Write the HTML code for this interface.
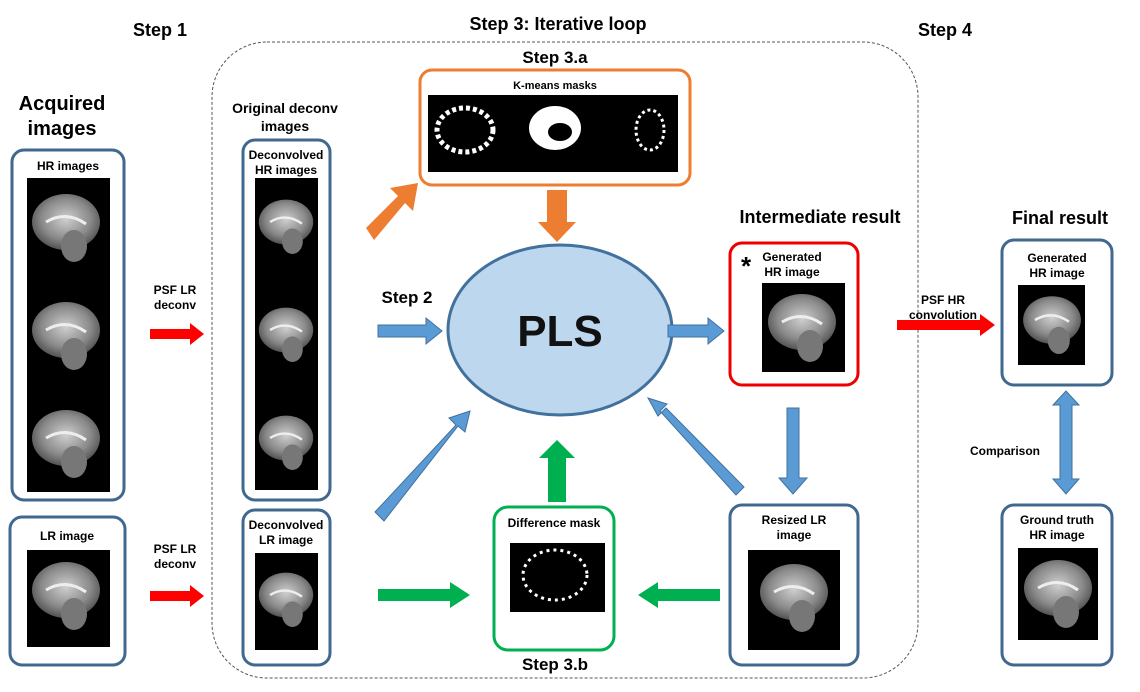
<!DOCTYPE html>
<html><head><meta charset="utf-8"><style>
body{margin:0;background:#fff;}
svg{display:block;font-family:"Liberation Sans",Arial,sans-serif;}
</style></head><body>
<svg width="1140" height="692" viewBox="0 0 1140 692" xmlns="http://www.w3.org/2000/svg">
<defs>
<radialGradient id="br" cx="0.5" cy="0.45" r="0.6"><stop offset="0" stop-color="#cfcfcf"/><stop offset="0.6" stop-color="#8a8a8a"/><stop offset="1" stop-color="#444"/></radialGradient>
<g id="brain"><ellipse cx="0" cy="0" rx="34" ry="28" fill="url(#br)"/><ellipse cx="8" cy="24" rx="13" ry="16" fill="#777"/><path d="M-20 0 Q0 -12 20 2" stroke="#eee" stroke-width="3" fill="none"/></g>
</defs>
<g font-weight="bold" fill="#000" text-anchor="middle">
<text x="160" y="36" font-size="18">Step 1</text>
<text x="558" y="30" font-size="18">Step 3: Iterative loop</text>
<text x="945" y="36" font-size="18">Step 4</text>
<text x="62" y="110" font-size="20">Acquired</text>
<text x="62" y="135" font-size="20">images</text>
<text x="285" y="113" font-size="14">Original deconv</text>
<text x="285" y="131" font-size="14">images</text>
<text x="555" y="63" font-size="17">Step 3.a</text>
<text x="820" y="223" font-size="18">Intermediate result</text>
<text x="1060" y="224" font-size="18">Final result</text>
<text x="407" y="303" font-size="17">Step 2</text>
<text x="555" y="670" font-size="17">Step 3.b</text>
</g>
<rect x="212" y="42" width="706" height="636" rx="55" fill="none" stroke="#555" stroke-width="1" stroke-dasharray="3,2"/>
<rect x="12" y="150" width="112" height="350" rx="12" fill="#fff" stroke="#41688f" stroke-width="3"/>
<text x="68" y="170" font-size="12" font-weight="bold" text-anchor="middle">HR images</text>
<rect x="27" y="178" width="83" height="314" fill="#000"/>
<use href="#brain" x="66" y="222"/><use href="#brain" x="66" y="330"/><use href="#brain" x="66" y="438"/>
<rect x="10" y="517" width="115" height="148" rx="12" fill="#fff" stroke="#41688f" stroke-width="3"/>
<text x="67" y="540" font-size="12" font-weight="bold" text-anchor="middle">LR image</text>
<rect x="27" y="550" width="83" height="97" fill="#000"/>
<use href="#brain" x="66" y="590"/>
<g font-size="12" font-weight="bold" text-anchor="middle">
<text x="175" y="294">PSF LR</text><text x="175" y="309">deconv</text>
<text x="175" y="553">PSF LR</text><text x="175" y="568">deconv</text>
<text x="943" y="304">PSF HR</text><text x="943" y="319">convolution</text>
<text x="1005" y="455">Comparison</text>
</g>
<g fill="#f00">
<polygon points="150,329 190,329 190,323 204,334 190,345 190,339 150,339"/>
<polygon points="150,591 190,591 190,585 204,596 190,607 190,601 150,601"/>
<polygon points="897,320 980,320 980,314 995,325 980,336 980,330 897,330"/>
</g>
<rect x="243" y="140" width="87" height="360" rx="12" fill="#fff" stroke="#41688f" stroke-width="3"/>
<text x="286" y="159" font-size="12" font-weight="bold" text-anchor="middle">Deconvolved</text>
<text x="286" y="174" font-size="12" font-weight="bold" text-anchor="middle">HR images</text>
<rect x="255" y="178" width="63" height="312" fill="#000"/>
<use href="#brain" x="286" y="222" transform="translate(286 222) scale(0.8) translate(-286 -222)"/>
<use href="#brain" x="286" y="330" transform="translate(286 330) scale(0.8) translate(-286 -330)"/>
<use href="#brain" x="286" y="438" transform="translate(286 438) scale(0.8) translate(-286 -438)"/>
<rect x="243" y="510" width="87" height="155" rx="12" fill="#fff" stroke="#41688f" stroke-width="3"/>
<text x="286" y="529" font-size="12" font-weight="bold" text-anchor="middle">Deconvolved</text>
<text x="286" y="544" font-size="12" font-weight="bold" text-anchor="middle">LR image</text>
<rect x="255" y="553" width="63" height="97" fill="#000"/>
<use href="#brain" x="286" y="595" transform="translate(286 595) scale(0.8) translate(-286 -595)"/>
<rect x="420" y="70" width="270" height="115" rx="12" fill="#fff" stroke="#ed7d31" stroke-width="3"/>
<text x="555" y="89" font-size="11" font-weight="bold" text-anchor="middle">K-means masks</text>
<rect x="428" y="95" width="250" height="77" fill="#000"/>
<ellipse cx="465" cy="130" rx="28" ry="22" fill="none" stroke="#fff" stroke-width="5" stroke-dasharray="4,3"/>
<ellipse cx="555" cy="128" rx="26" ry="22" fill="#fff"/><ellipse cx="560" cy="132" rx="12" ry="9" fill="#000"/>
<ellipse cx="650" cy="130" rx="14" ry="20" fill="none" stroke="#fff" stroke-width="3" stroke-dasharray="3,3"/>
<g fill="#ed7d31">
<polygon points="366,228 398,196 390,188 418,183 413,211 405,203 374,240"/>
<polygon points="547,190 567,190 567,222 576,222 557,242 538,222 547,222"/>
</g>
<ellipse cx="560" cy="330" rx="112" ry="85" fill="#bdd7ee" stroke="#41719c" stroke-width="3"/>
<text x="560" y="346" font-size="44" font-weight="bold" text-anchor="middle" fill="#111">PLS</text>
<g fill="#5b9bd5" stroke="#41719c" stroke-width="1">
<polygon points="378,325 426,325 426,318 442,331 426,344 426,337 378,337"/>
<polygon points="668,325 708,325 708,318 724,331 708,344 708,337 668,337"/>
<polygon points="787,408 799,408 799,478 807,478 793,494 779,478 787,478"/>
<polygon points="744,487 666,408 658,416 648,398 667,404 660,411 736,495"/>
<polygon points="375,512 456,425 449,418 470,411 465,432 458,426 384,521"/>
<polygon points="1060,405 1060,479 1053,479 1066,494 1079,479 1072,479 1072,405 1079,405 1066,391 1053,405"/>
</g>
<g fill="#00b050">
<polygon points="548,502 566,502 566,458 575,458 557,440 539,458 548,458"/>
<polygon points="378,589 450,589 450,582 470,595 450,608 450,601 378,601"/>
<polygon points="720,589 658,589 658,582 638,595 658,608 658,601 720,601"/>
</g>
<rect x="494" y="507" width="120" height="143" rx="14" fill="#fff" stroke="#00b050" stroke-width="3"/>
<text x="554" y="527" font-size="12" font-weight="bold" text-anchor="middle">Difference mask</text>
<rect x="510" y="543" width="95" height="69" fill="#000"/>
<ellipse cx="555" cy="575" rx="32" ry="25" fill="none" stroke="#fff" stroke-width="3" stroke-dasharray="3,4"/>
<rect x="730" y="243" width="128" height="142" rx="12" fill="#fff" stroke="#e00" stroke-width="3"/>
<text x="746" y="275" font-size="26" font-weight="bold" text-anchor="middle">*</text>
<text x="792" y="261" font-size="12" font-weight="bold" text-anchor="middle">Generated</text>
<text x="792" y="276" font-size="12" font-weight="bold" text-anchor="middle">HR image</text>
<rect x="762" y="283" width="83" height="89" fill="#000"/>
<use href="#brain" x="802" y="322"/>
<rect x="730" y="505" width="128" height="160" rx="12" fill="#fff" stroke="#41688f" stroke-width="3"/>
<text x="794" y="524" font-size="12" font-weight="bold" text-anchor="middle">Resized LR</text>
<text x="794" y="539" font-size="12" font-weight="bold" text-anchor="middle">image</text>
<rect x="748" y="550" width="92" height="100" fill="#000"/>
<use href="#brain" x="794" y="592"/>
<rect x="1002" y="240" width="110" height="145" rx="12" fill="#fff" stroke="#41688f" stroke-width="3"/>
<text x="1057" y="262" font-size="12" font-weight="bold" text-anchor="middle">Generated</text>
<text x="1057" y="277" font-size="12" font-weight="bold" text-anchor="middle">HR image</text>
<rect x="1018" y="285" width="67" height="80" fill="#000"/>
<use href="#brain" x="1052" y="320" transform="translate(1052 320) scale(0.85) translate(-1052 -320)"/>
<rect x="1002" y="505" width="110" height="160" rx="12" fill="#fff" stroke="#41688f" stroke-width="3"/>
<text x="1057" y="524" font-size="12" font-weight="bold" text-anchor="middle">Ground truth</text>
<text x="1057" y="539" font-size="12" font-weight="bold" text-anchor="middle">HR image</text>
<rect x="1018" y="548" width="80" height="92" fill="#000"/>
<use href="#brain" x="1058" y="588"/>
</svg>
</body></html>
